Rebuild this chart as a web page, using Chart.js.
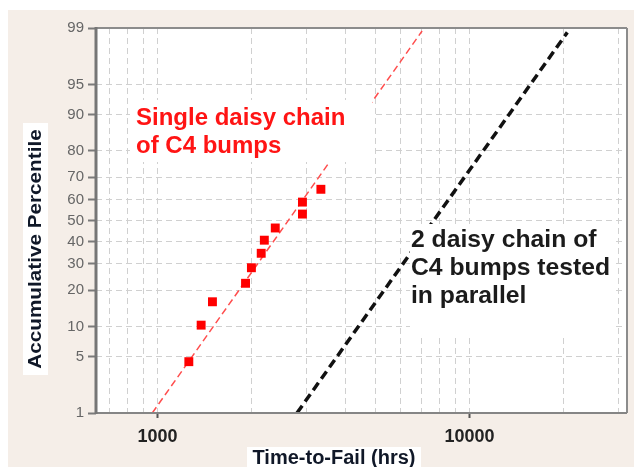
<!DOCTYPE html>
<html>
<head>
<meta charset="utf-8">
<script src="https://cdn.jsdelivr.net/npm/chart.js@4.4.1/dist/chart.umd.min.js"></script>
<style>
  html, body { margin: 0; padding: 0; background: #fff; }
  canvas { display: block; }
</style>
</head>
<body>
<canvas id="ttfChart" width="634" height="467"></canvas>
<script>
// ===== DATA =====
const singleHours = [1260, 1380, 1500, 1915, 2000, 2150, 2200, 2385, 2915, 2915, 3340];
const singlePct = [4.4, 10.3, 16.3, 22.4, 28.4, 34.6, 40.6, 46.4, 53.1, 58.8, 64.7];
const singleFitHours = [962, 7050];
const singleFitPct = [1, 98.9];
const parallelHours = [2800, 20600];
const parallelPct = [1, 98.85];
const yTickPct = [1, 5, 10, 20, 30, 40, 50, 60, 70, 80, 90, 95, 99];
const xGridHours = [700, 800, 900, 1000, 2000, 3000, 4000, 5000, 6000, 7000, 8000, 9000, 10000, 20000, 30000];
const xLabelHours = [1000, 10000];
const singleNote = ['Single daisy chain', 'of C4 bumps'];
const parallelNote = ['2 daisy chain of', 'C4 bumps tested', 'in parallel'];

// ===== PROBIT (inverse normal cdf, Acklam) =====
function probit(p) {
  const a = [-3.969683028665376e+01, 2.209460984245205e+02, -2.759285104469687e+02, 1.383577518672690e+02, -3.066479806614716e+01, 2.506628277459239e+00];
  const b = [-5.447609879822406e+01, 1.615858368580409e+02, -1.556989798598866e+02, 6.680131188771972e+01, -1.328068155288572e+01];
  const c = [-7.784894002430293e-03, -3.223964580411365e-01, -2.400758277161838e+00, -2.549732539343734e+00, 4.374664141464968e+00, 2.938163982698783e+00];
  const d = [7.784695709041462e-03, 3.224671290700398e-01, 2.445134137142996e+00, 3.754408661907416e+00];
  const pl = 0.02425;
  let q, r;
  if (p < pl) {
    q = Math.sqrt(-2 * Math.log(p));
    return (((((c[0]*q+c[1])*q+c[2])*q+c[3])*q+c[4])*q+c[5]) / ((((d[0]*q+d[1])*q+d[2])*q+d[3])*q+1);
  }
  if (p > 1 - pl) {
    q = Math.sqrt(-2 * Math.log(1 - p));
    return -(((((c[0]*q+c[1])*q+c[2])*q+c[3])*q+c[4])*q+c[5]) / ((((d[0]*q+d[1])*q+d[2])*q+d[3])*q+1);
  }
  q = p - 0.5; r = q * q;
  return (((((a[0]*r+a[1])*r+a[2])*r+a[3])*r+a[4])*r+a[5])*q / (((((b[0]*r+b[1])*r+b[2])*r+b[3])*r+b[4])*r+1);
}
const z = pct => probit(pct / 100);
const pts = (xs, ps) => xs.map((x, i) => ({ x: x, y: z(ps[i]) }));

// ===== TEXT HELPER =====
function drawLines(c, lines, x, y0, lh, font, color, sx) {
  c.font = font;
  c.fillStyle = color;
  c.textAlign = 'left';
  c.textBaseline = 'alphabetic';
  lines.forEach((t, i) => {
    c.save();
    c.translate(x, y0 + i * lh);
    c.scale(sx, 1);
    c.fillText(t, 0, 0);
    c.restore();
  });
}

// ===== BACKGROUND, NOTES, FRAME =====
const frameAndNotes = {
  id: 'frameAndNotes',
  beforeDraw(chart) {
    const c = chart.ctx, a = chart.chartArea;
    c.save();
    c.fillStyle = '#ffffff';
    c.fillRect(0, 0, chart.width, chart.height);
    c.fillStyle = '#f5eee8';
    c.fillRect(8, 10, chart.width - 8, chart.height - 10);
    c.fillStyle = '#ffffff';
    c.fillRect(a.left, a.top, a.right - a.left, a.bottom - a.top);
    c.restore();
  },
  afterDatasetsDraw(chart) {
    const c = chart.ctx, a = chart.chartArea;
    c.save();
    // white boxes behind the notes
    c.fillStyle = '#ffffff';
    c.fillRect(130, 100, 242, 62);
    c.fillRect(410, 224, 202, 110);
    drawLines(c, singleNote, 136, 125, 28, 'bold 24px "Liberation Sans", Arial, sans-serif', '#ff1414', 1);
    drawLines(c, parallelNote, 411, 247, 28, 'bold 24px "Liberation Sans", Arial, sans-serif', '#1b1b1b', 1.03);

    // plot frame
    c.lineCap = 'butt';
    c.strokeStyle = '#8c8c8c';
    c.lineWidth = 2;
    c.beginPath();
    c.moveTo(a.left, a.top); c.lineTo(a.right, a.top);
    c.moveTo(a.right, a.top); c.lineTo(a.right, a.bottom);
    c.stroke();
    c.strokeStyle = '#858585';
    c.beginPath();
    c.moveTo(a.left, a.bottom); c.lineTo(a.right, a.bottom);
    c.stroke();
    c.strokeStyle = '#767676';
    c.lineWidth = 3;
    c.beginPath();
    c.moveTo(a.left, a.top - 1); c.lineTo(a.left, a.bottom + 1);
    c.stroke();

    // axis titles
    c.fillStyle = '#ffffff';
    c.fillRect(23, 123, 25, 252);
    c.fillRect(247, 447, 174, 20);
    c.fillStyle = '#101828';
    c.textAlign = 'center';
    c.textBaseline = 'middle';
    c.save();
    c.translate(36, 249);
    c.rotate(-Math.PI / 2);
    c.scale(1.15, 1);
    c.font = 'bold 18px "Liberation Sans", Arial, sans-serif';
    c.fillText('Accumulative Percentile', 0, 0);
    c.restore();
    c.font = 'bold 20px "Liberation Sans", Arial, sans-serif';
    c.textBaseline = 'alphabetic';
    c.fillText('Time-to-Fail (hrs)', 334, 464);
    c.restore();
  }
};

// ===== CHART =====
const ctx = document.getElementById('ttfChart').getContext('2d');

new Chart(ctx, {
  type: 'scatter',
  data: {
    datasets: [
      {
        label: 'Single daisy chain of C4 bumps',
        data: pts(singleHours, singlePct),
        pointStyle: 'rect',
        pointRadius: 6.3,
        pointBorderWidth: 0,
        backgroundColor: '#ff0000',
        borderColor: '#ff0000',
        showLine: false,
      },
      {
        label: 'Single chain fit',
        data: pts(singleFitHours, singleFitPct),
        showLine: true,
        pointRadius: 0,
        borderColor: '#ff4d4d',
        borderWidth: 1.5,
        borderDash: [7, 4],
      },
      {
        label: '2 daisy chain in parallel',
        data: pts(parallelHours, parallelPct),
        showLine: true,
        pointRadius: 0,
        borderColor: '#111111',
        borderWidth: 3.5,
        borderDash: [9, 5],
      }
    ]
  },
  options: {
    responsive: false,
    animation: false,
    devicePixelRatio: 1,
    layout: { padding: { top: 28, right: 7, left: 0, bottom: 0 } },
    plugins: {
      legend: { display: false },
      tooltip: { enabled: false }
    },
    scales: {
      x: {
        type: 'logarithmic',
        min: 635,
        max: 32000,
        afterBuildTicks: s => { s.ticks = xGridHours.map(v => ({ value: v })); },
        afterFit: s => { s.height = 54; },
        border: { display: false, dash: [6, 4] },
        grid: {
          color: '#d0d0d0',
          lineWidth: 1,
          tickLength: 5,
          tickWidth: 2,
          tickColor: c => (c.tick && xLabelHours.includes(c.tick.value)) ? '#555555' : 'rgba(0,0,0,0)'
        },
        ticks: {
          autoSkip: false,
          maxRotation: 0,
          padding: 8,
          color: '#222222',
          font: { family: 'Liberation Sans', size: 18, weight: 'bold' },
          callback: v => xLabelHours.includes(v) ? String(v) : ''
        }
      },
      y: {
        type: 'linear',
        min: z(1),
        max: z(99),
        afterBuildTicks: s => { s.ticks = yTickPct.map(p => ({ value: z(p) })); },
        afterFit: s => { s.width = 96; },
        border: { display: false, dash: [6, 4] },
        grid: {
          color: c => (c.index === 0 || c.index === yTickPct.length - 1) ? 'rgba(0,0,0,0)' : '#d0d0d0',
          lineWidth: 1,
          tickLength: 8,
          tickWidth: 2,
          tickColor: '#7a7a7a'
        },
        ticks: {
          autoSkip: false,
          padding: 4,
          color: '#666666',
          font: { family: 'Liberation Sans', size: 15 },
          callback: (v, i) => String(yTickPct[i])
        }
      }
    }
  },
  plugins: [frameAndNotes]
});
</script>
</body>
</html>
